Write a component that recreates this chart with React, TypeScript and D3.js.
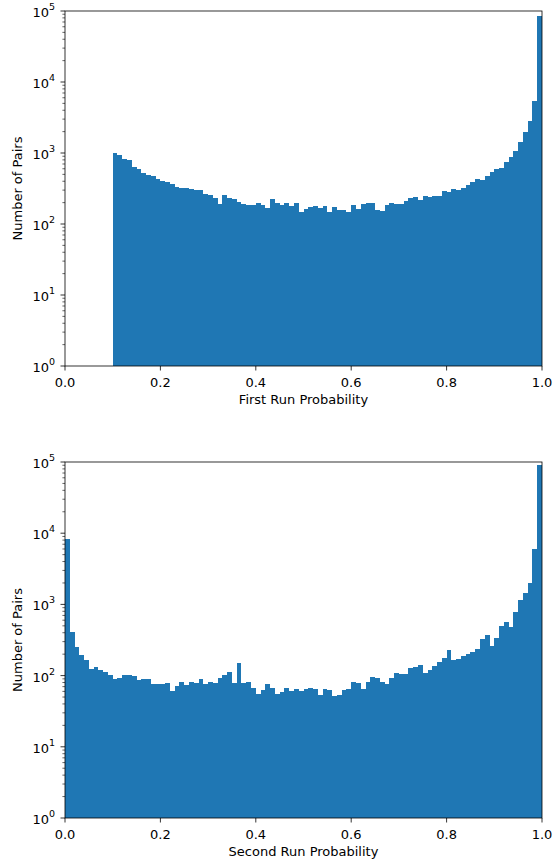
import React from "react";
import * as d3 from "d3";

// ---- Data ----
const binWidth = 0.01;
const topBinStart = 0.1;
const bottomBinStart = 0.0;

const topCounts: number[] = [
  1000, 946, 815, 789, 630, 590, 523, 490, 474, 430,
  407, 386, 362, 335, 318, 318, 308, 298, 298, 264,
  253, 232, 191, 253, 232, 225, 206, 194, 185, 185,
  198, 185, 170, 225, 198, 185, 198, 181, 198, 146,
  163, 174, 178, 170, 178, 146, 174, 159, 159, 149,
  185, 163, 193, 198, 198, 159, 150, 185, 198, 191,
  191, 211, 230, 237, 218, 245, 237, 245, 245, 288,
  279, 314, 304, 325, 353, 390, 427, 413, 469, 535,
  590, 621, 755, 879, 1067, 1413, 1990, 2820, 5460, 85900,
];

const bottomCounts: number[] = [
  8200, 414, 251, 193, 164, 124, 132, 120, 113, 103,
  91, 93, 103, 103, 98, 87, 89, 89, 76, 76,
  77, 80, 61, 71, 82, 74, 82, 80, 91, 75,
  82, 78, 92, 101, 112, 78, 149, 78, 82, 68,
  55, 63, 75, 68, 55, 58, 68, 61, 64, 61,
  64, 66, 64, 53, 64, 62, 52, 53, 62, 64,
  82, 78, 64, 82, 97, 92, 82, 75, 93, 109,
  104, 104, 127, 131, 141, 109, 120, 136, 155, 175,
  229, 166, 169, 187, 199, 212, 239, 323, 368, 261,
  334, 502, 560, 486, 774, 1153, 1432, 2020, 5940, 90800,
];

const xTicks = [0, 0.2, 0.4, 0.6, 0.8, 1.0];
const yExponents = [0, 1, 2, 3, 4, 5];
const yLabel = "Number of Pairs";
const topXLabel = "First Run Probability";
const bottomXLabel = "Second Run Probability";

const BAR_COLOR = "#1f77b4";
const FONT = "'DejaVu Sans', sans-serif";

type PanelProps = {
  counts: number[];
  start: number;
  top: number;
  bottom: number;
  xLabel: string;
};

const LEFT = 65;
const RIGHT = 542;

function Panel({ counts, start, top, bottom, xLabel }: PanelProps) {
  const x = d3.scaleLinear().domain([0, 1]).range([LEFT, RIGHT]);
  const y = d3.scaleLog().domain([1, 1e5]).range([bottom, top]);

  const minor: number[] = [];
  for (let e = 0; e < 5; e++) {
    for (let m = 2; m <= 9; m++) minor.push(m * Math.pow(10, e));
  }

  return (
    <g>
      <g shapeRendering="crispEdges">
        {counts.map((c, i) => {
          const x0 = x(start + i * binWidth);
          const x1 = x(start + (i + 1) * binWidth);
          const yt = y(c);
          return (
            <rect
              key={i}
              x={x0}
              y={yt}
              width={x1 - x0}
              height={bottom - yt}
              fill={BAR_COLOR}
            />
          );
        })}
      </g>
      {/* spines */}
      <rect
        x={LEFT}
        y={top}
        width={RIGHT - LEFT}
        height={bottom - top}
        fill="none"
        stroke="#000"
        strokeWidth={0.8}
      />
      {/* x ticks */}
      {xTicks.map((t) => (
        <g key={t}>
          <line x1={x(t)} x2={x(t)} y1={bottom} y2={bottom + 4.5} stroke="#000" strokeWidth={0.8} />
          <text
            x={x(t)}
            y={bottom + 20.5}
            textAnchor="middle"
            fontFamily={FONT}
            fontSize={13}
            fill="#000"
          >
            {t.toFixed(1)}
          </text>
        </g>
      ))}
      {/* y major ticks */}
      {yExponents.map((e) => (
        <g key={e}>
          <line
            x1={LEFT - 4.5}
            x2={LEFT}
            y1={y(Math.pow(10, e))}
            y2={y(Math.pow(10, e))}
            stroke="#000"
            strokeWidth={0.8}
          />
          <text
            x={LEFT - 10}
            y={y(Math.pow(10, e)) + 6}
            textAnchor="end"
            fontFamily={FONT}
            fontSize={13}
            fill="#000"
          >
            10
            <tspan dy={-7} fontSize={9.5}>
              {e}
            </tspan>
          </text>
        </g>
      ))}
      {minor.map((v) => (
        <line
          key={v}
          x1={LEFT - 2.6}
          x2={LEFT}
          y1={y(v)}
          y2={y(v)}
          stroke="#000"
          strokeWidth={0.6}
        />
      ))}
      <text
        x={(LEFT + RIGHT) / 2}
        y={bottom + 38}
        textAnchor="middle"
        fontFamily={FONT}
        fontSize={13}
        fill="#000"
      >
        {xLabel}
      </text>
      <text
        transform={`translate(22, ${(top + bottom) / 2}) rotate(-90)`}
        textAnchor="middle"
        fontFamily={FONT}
        fontSize={13}
        fill="#000"
      >
        {yLabel}
      </text>
    </g>
  );
}

export default function App() {
  return (
    <svg
      width={553}
      height={860}
      style={{ position: "absolute", left: 0, top: 0, background: "#fff" }}
    >
      <rect width={553} height={860} fill="#fff" />
      <Panel counts={topCounts} start={topBinStart} top={11} bottom={366} xLabel={topXLabel} />
      <Panel counts={bottomCounts} start={bottomBinStart} top={462} bottom={818} xLabel={bottomXLabel} />
    </svg>
  );
}
